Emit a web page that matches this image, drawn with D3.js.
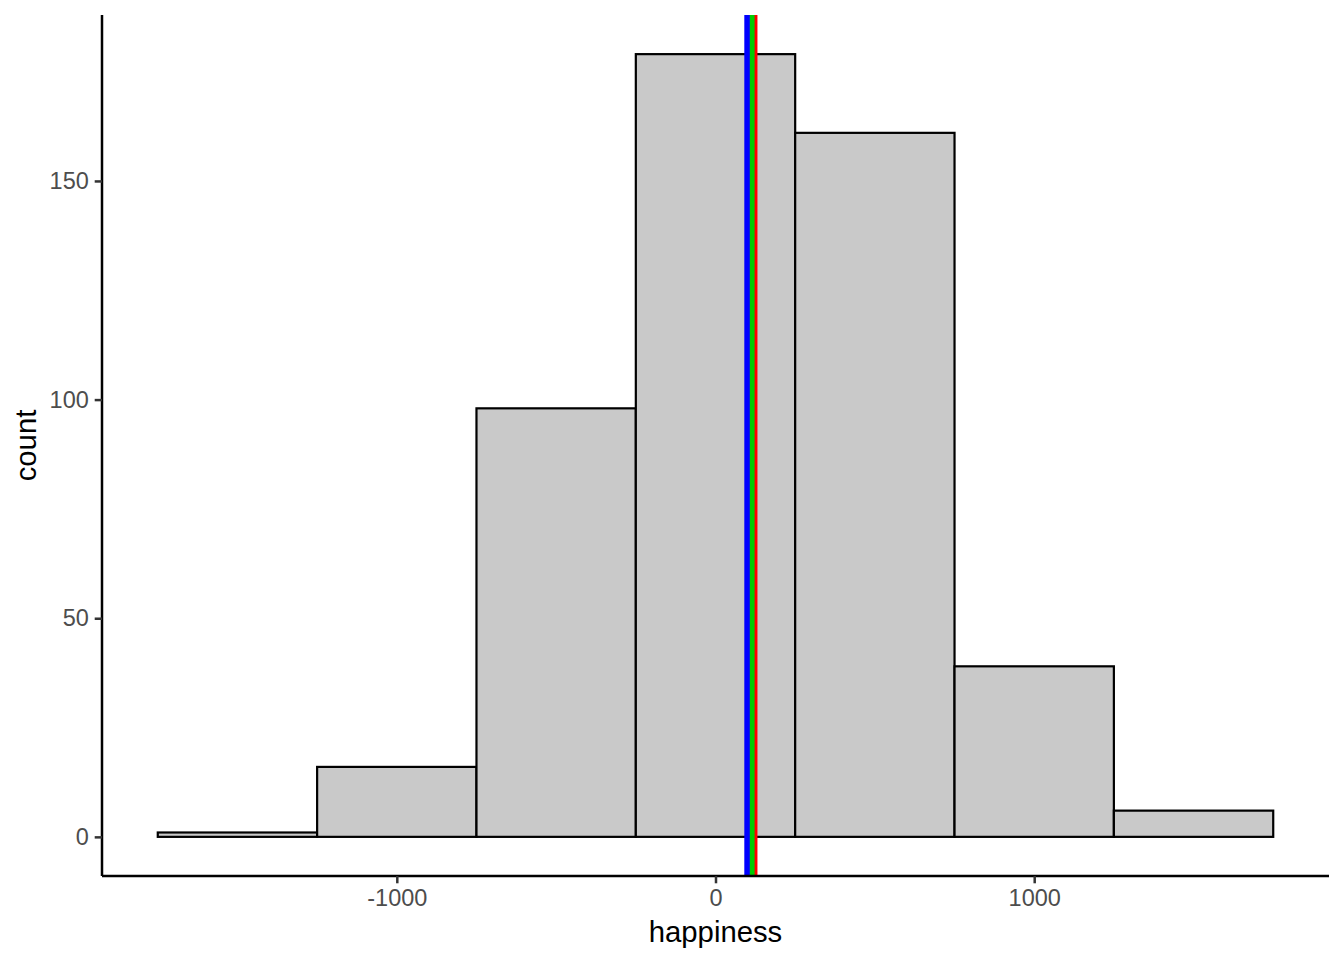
<!DOCTYPE html>
<html>
<head>
<meta charset="utf-8">
<script src="https://cdn.jsdelivr.net/npm/d3@7"></script>
<style>
  body { margin: 0; background: #fff; }
  text { font-family: "Liberation Sans", Arial, sans-serif; }
</style>
</head>
<body>
<svg id="chart" width="1344" height="960"></svg>
<script>
// histogram bins (width 500) and counts
const binStarts = [-1750, -1250, -750, -250, 250, 750, 1250]
const binWidth = 500
const counts = [1, 16, 98, 179, 161, 39, 6]

// reference lines, drawn red first so blue sits on top
const refValues = [123, 114, 99]
const refColors = ["#ff0000", "#00cc00", "#0000ff"]

const xTicks = [-1000, 0, 1000]
const yTicks = [0, 50, 100, 150]

const svg = d3.select("#chart")
const panel = { left: 102, right: 1329, top: 15, bottom: 876 }

const xScale = d3.scaleLinear().domain([-1925, 1925]).range([panel.left, panel.right])
const yScale = d3.scaleLinear().domain([-8.95, 187.95]).range([panel.bottom, panel.top])

// bars
svg.selectAll("rect.bin")
  .data(counts)
  .enter()
  .append("rect")
  .attr("class", "bin")
  .attr("x", (d, i) => xScale(binStarts[i]))
  .attr("width", (d, i) => xScale(binStarts[i] + binWidth) - xScale(binStarts[i]))
  .attr("y", d => yScale(d))
  .attr("height", d => yScale(0) - yScale(d))
  .style("fill", "#c9c9c9")
  .style("stroke", "#000")
  .style("stroke-width", 2.2)

// vertical lines
svg.selectAll("line.ref")
  .data(refValues)
  .enter()
  .append("line")
  .attr("class", "ref")
  .attr("x1", d => xScale(d))
  .attr("x2", d => xScale(d))
  .attr("y1", panel.top)
  .attr("y2", panel.bottom)
  .style("stroke", (d, i) => refColors[i])
  .style("stroke-width", 5.5)

// axes (plain hyphen minus, no thousands separator)
const fmt = d => String(d)
const xAxis = d3.axisBottom(xScale).tickValues(xTicks).tickFormat(fmt).tickSize(7.3).tickPadding(5.9)
const yAxis = d3.axisLeft(yScale).tickValues(yTicks).tickFormat(fmt).tickSize(7.3).tickPadding(5.9)

const xG = svg.append("g").attr("transform", `translate(0,${panel.bottom})`).call(xAxis)
const yG = svg.append("g").attr("transform", `translate(${panel.left},0)`).call(yAxis)

for (const g of [xG, yG]) {
  g.select(".domain").style("stroke", "#000").style("stroke-width", 2.5)
  g.selectAll(".tick line").style("stroke", "#333").style("stroke-width", 2.5)
  g.selectAll(".tick text")
    .style("font-size", "23.5px")
    .style("fill", "#4d4d4d")
    .style("font-family", "'Liberation Sans', Arial, sans-serif")
}
xG.select(".domain").attr("d", `M${panel.left},0H${panel.right}`)
yG.select(".domain").attr("d", `M0,${panel.top}V${panel.bottom}`)

// titles
svg.append("text")
  .attr("x", (panel.left + panel.right) / 2)
  .attr("y", 942)
  .attr("text-anchor", "middle")
  .style("font-size", "29.3px")
  .text("happiness")

svg.append("text")
  .attr("transform", `translate(36,${(panel.top + panel.bottom) / 2}) rotate(-90)`)
  .attr("text-anchor", "middle")
  .style("font-size", "29.3px")
  .text("count")
</script>
</body>
</html>
